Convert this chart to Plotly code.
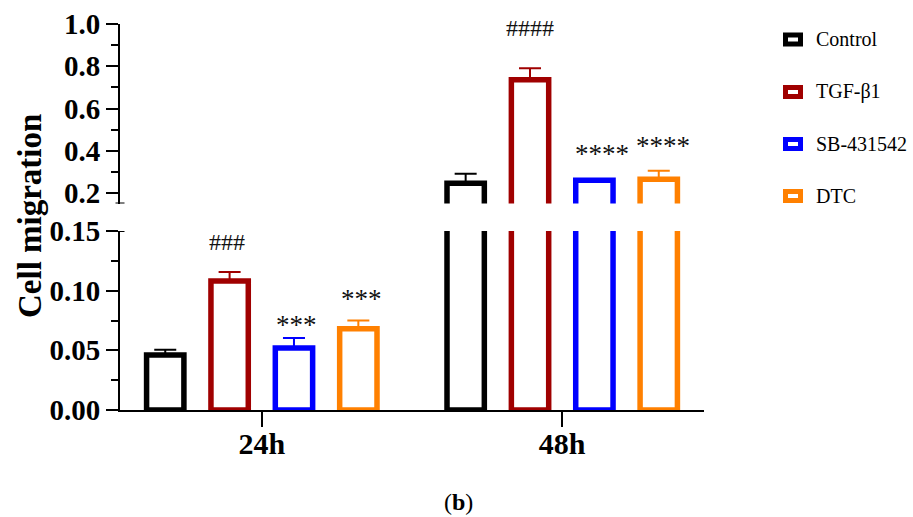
import plotly.graph_objects as go

# ---- data ----
timepoints = ["24h", "48h"]
series_names = ["Control", "TGF-β1", "SB-431542", "DTC"]
control_vals = [0.046, 0.246]
tgf_vals = [0.108, 0.736]
sb_vals = [0.052, 0.261]
dtc_vals = [0.068, 0.265]
control_err = [0.0045, 0.045]
tgf_err = [0.0076, 0.054]
sb_err = [0.0084, 0.004]
dtc_err = [0.0069, 0.041]

# significance marks: (timepoint index, series index, text)
sig_marks = [
    (0, 1, "###"), (0, 2, "***"), (0, 3, "***"),
    (1, 1, "####"), (1, 2, "****"), (1, 3, "****"),
]

# ---- style ----
colors = ["#000000", "#a00000", "#0000ff", "#ff8000"]
FONT = "Liberation Serif"
W, H = 913, 517
values = [control_vals, tgf_vals, sb_vals, dtc_vals]
errors = [control_err, tgf_err, sb_err, dtc_err]

fig = go.Figure()
for axis_pair in [("x", "y"), ("x2", "y2")]:
    for name, vals, errs, col in zip(series_names, values, errors, colors):
        fig.add_trace(go.Bar(
            x=timepoints, y=vals, name=name,
            xaxis=axis_pair[0], yaxis=axis_pair[1],
            marker=dict(color="white", line=dict(color=col, width=5.5)),
            error_y=dict(type="data", array=errs, arrayminus=[0] * len(errs),
                         symmetric=False, color=col, thickness=2, width=11),
            showlegend=False, hoverinfo="skip",
        ))

x_dom = [120 / W, 704 / W]
low_dom = [1 - 410 / H, 1 - 231 / H]
up_dom = [1 - 203.6 / H, 1 - 24 / H]

axis_common = dict(showline=True, linewidth=2, linecolor="black", ticks="outside",
                   tickwidth=2, ticklen=12, tickcolor="black", showgrid=False,
                   zeroline=False, tickfont=dict(family=FONT, size=29, color="black", weight="bold"))

fig.update_layout(
    width=W, height=H,
    margin=dict(l=0, r=0, t=0, b=0, autoexpand=False),
    paper_bgcolor="white", plot_bgcolor="white",
    barmode="group", bargap=0.143, bargroupgap=0.42,
    showlegend=False,
    xaxis=dict(domain=x_dom, range=[-0.472, 1.472], anchor="y", showline=True, linewidth=2,
               linecolor="black", ticks="outside", ticklen=15, tickwidth=2, tickcolor="black",
               showgrid=False, ticklabelstandoff=-9,
               tickfont=dict(family=FONT, size=30, color="black", weight="bold")),
    xaxis2=dict(domain=x_dom, range=[-0.472, 1.472], anchor="y2", matches="x", visible=False),
    yaxis=dict(domain=low_dom, range=[0, 0.15], anchor="x", tick0=0, dtick=0.05, tickformat=".2f",
               minor=dict(dtick=0.025, ticks="outside", ticklen=7, tickwidth=2, tickcolor="black"),
               **axis_common),
    yaxis2=dict(domain=up_dom, range=[0.15, 1.0], anchor="x2", tick0=0, dtick=0.2, tickformat=".1f",
                minor=dict(dtick=0.1, ticks="outside", ticklen=7, tickwidth=2, tickcolor="black"),
                **axis_common),
)

# axis break caps
for yref in ["y", "y2"]:
    fig.add_shape(type="line", xref="paper", yref=yref, x0=115.5 / W, x1=124.5 / W, y0=0.15, y1=0.15,
                  line=dict(color="black", width=2))

# significance annotations
slot = (1 - 0.143) / 4
offsets = [(-1.5 + i) * slot for i in range(4)]
ann_shift = {(0, 1): (-3, 30), (0, 2): (3, 13), (0, 3): (3, 22),
             (1, 1): (0, 40), (1, 2): (8, 25), (1, 3): (4, 25)}
for gi, si, txt in sig_marks:
    yref = "y" if gi == 0 else "y2"
    xref = "x" if gi == 0 else "x2"
    xs, ys = ann_shift[(gi, si)]
    size = 24 if "#" in txt else 27
    fig.add_annotation(x=gi + offsets[si], y=values[si][gi] + errors[si][gi], xref=xref, yref=yref,
                       text=txt, showarrow=False, xanchor="center", yanchor="middle",
                       xshift=xs, yshift=ys, font=dict(family=FONT, size=size, color="#111111"))

# y axis title
fig.add_annotation(x=30 / W, y=1 - 216 / H, xref="paper", yref="paper", text="Cell migration",
                   textangle=-90, showarrow=False, xanchor="center", yanchor="middle",
                   font=dict(family=FONT, size=33, color="black", weight="bold"))

# legend (drawn manually)
leg_y = [39.5, 92, 144, 196]
for name, col, py in zip(series_names, colors, leg_y):
    fig.add_shape(type="rect", xref="paper", yref="paper",
                  x0=785.5 / W, x1=800.5 / W, y0=1 - (py + 4.5) / H, y1=1 - (py - 4.5) / H,
                  fillcolor="white", line=dict(color=col, width=5))
    fig.add_annotation(x=814 / W, y=1 - py / H, xref="paper", yref="paper", text=name,
                       showarrow=False, xanchor="left", yanchor="middle",
                       font=dict(family=FONT, size=20, color="black"))

# panel label
fig.add_annotation(x=458 / W, y=1 - 502 / H, xref="paper", yref="paper", text="(<b>b</b>)",
                   showarrow=False, xanchor="center", yanchor="middle",
                   font=dict(family=FONT, size=24, color="black"))

fig.write_html("out.html", config={"displayModeBar": False},
               post_script="document.body.style.margin='0';")
